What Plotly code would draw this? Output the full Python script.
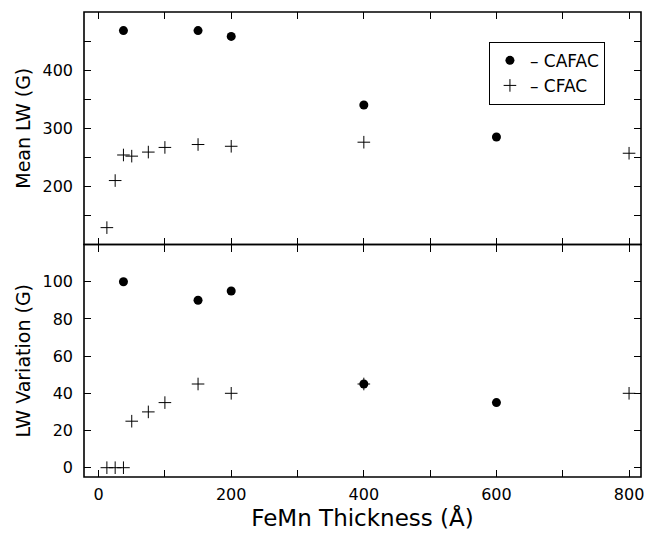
import plotly.graph_objects as go
from plotly.subplots import make_subplots

# ---- data ----
cafac_x = [37.5, 150, 200, 400, 600]
cafac_mean = [468, 468, 458, 340, 285]
cafac_var = [100, 90, 95, 45, 35]

cfac_x = [12.5, 25, 37.5, 50, 75, 100, 150, 200, 400, 800]
cfac_mean = [129, 210, 254, 252, 259, 267, 272, 269, 276, 257]
cfac_var = [0, 0, 0, 25, 30, 35, 45, 40, 45, 40]

x_tickvals = [0, 100, 200, 300, 400, 500, 600, 700, 800]
x_ticktext = ["0", "", "200", "", "400", "", "600", "", "800"]
top_tickvals = [150, 200, 250, 300, 350, 400, 450]
top_ticktext = ["", "200", "", "300", "", "400", ""]
bot_tickvals = [0, 20, 40, 60, 80, 100]
bot_ticktext = ["0", "20", "40", "60", "80", "100"]

FONT = "DejaVu Sans"

fig = make_subplots(rows=2, cols=1, shared_xaxes=True, vertical_spacing=0)

circle = dict(symbol="circle", size=9, color="black")
cross = dict(symbol="cross-thin", size=9, color="black", line=dict(color="black", width=1))

fig.add_trace(go.Scatter(x=cafac_x, y=cafac_mean, mode="markers", marker=circle,
                         name="\u2013 CAFAC", showlegend=True), row=1, col=1)
fig.add_trace(go.Scatter(x=cfac_x, y=cfac_mean, mode="markers", marker=cross,
                         name="\u2013 CFAC", showlegend=True), row=1, col=1)
fig.add_trace(go.Scatter(x=cafac_x, y=cafac_var, mode="markers", marker=circle,
                         showlegend=False), row=2, col=1)
fig.add_trace(go.Scatter(x=cfac_x, y=cfac_var, mode="markers", marker=cross,
                         showlegend=False), row=2, col=1)

axis_common = dict(showline=False, mirror="ticks",
                   ticks="inside", ticklen=7, tickwidth=1, tickcolor="black",
                   showgrid=False, zeroline=False,
                   tickfont=dict(family=FONT, size=16, color="black"))

fig.update_xaxes(range=[-22, 818], tickvals=x_tickvals, ticktext=x_ticktext, **axis_common)
fig.update_xaxes(showticklabels=False, row=1, col=1)
fig.update_xaxes(row=2, col=1, ticklabelstandoff=6,
                 title=dict(text="FeMn Thickness (Å)", font=dict(family=FONT, size=23, color="black"),
                            standoff=4))

fig.update_yaxes(**axis_common, ticklabelstandoff=10)
fig.update_yaxes(range=[100, 500], tickvals=top_tickvals, ticktext=top_ticktext, row=1, col=1,
                 title=dict(text="Mean LW (G)", font=dict(family=FONT, size=19, color="black"), standoff=6))
fig.update_yaxes(range=[-5, 120], tickvals=bot_tickvals, ticktext=bot_ticktext, row=2, col=1,
                 title=dict(text="LW Variation (G)", font=dict(family=FONT, size=19, color="black"), standoff=6))

# panel frames
for xr, yr in (("x domain", "y domain"), ("x2 domain", "y2 domain")):
    fig.add_shape(type="rect", xref=xr, yref=yr, x0=0, x1=1, y0=0, y1=1,
                  line=dict(color="black", width=1.6), fillcolor="rgba(0,0,0,0)", layer="above")

fig.update_layout(
    width=651, height=535,
    margin=dict(l=84, r=7, t=12, b=58),
    paper_bgcolor="white", plot_bgcolor="white",
    font=dict(family=FONT, color="black"),
    legend=dict(x=0.727, y=0.936, xanchor="left", yanchor="top",
                bordercolor="black", borderwidth=1, bgcolor="white",
                font=dict(family=FONT, size=17, color="black"),
                tracegroupgap=0, itemwidth=30),
)

fig.write_html("out.html")
